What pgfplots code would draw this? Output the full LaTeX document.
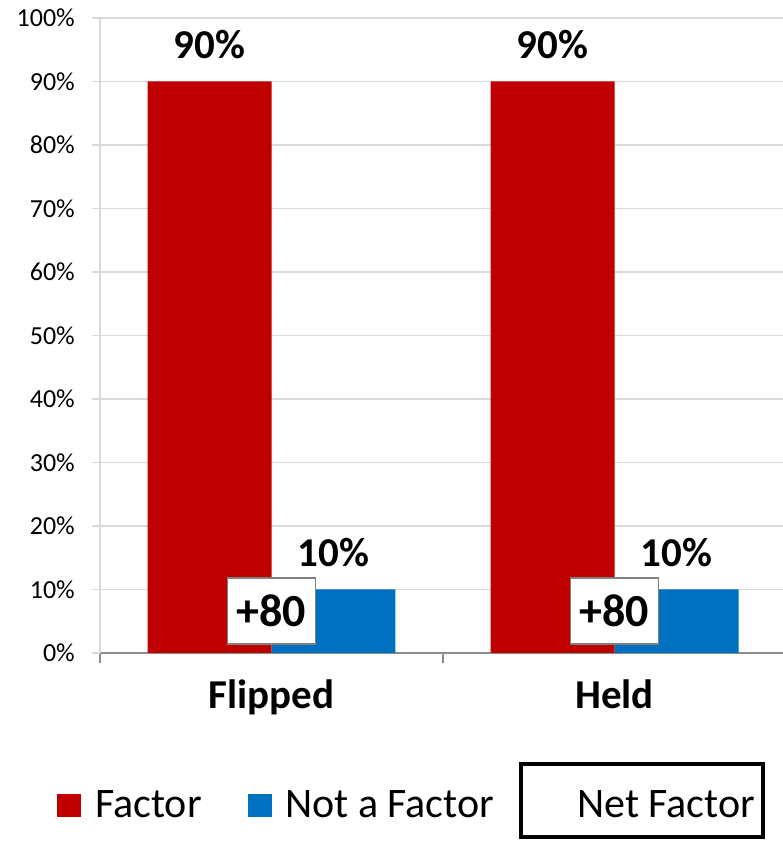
\documentclass[border=0pt]{standalone}
\usepackage{fontspec}
\setmainfont{Carlito}
\usepackage{pgfplots}
\pgfplotsset{compat=1.18}

\definecolor{factorred}{HTML}{C00000}
\definecolor{notblue}{HTML}{0070C0}
\definecolor{gridgray}{HTML}{D9D9D9}
\definecolor{axisgray}{HTML}{8C8C8C}

\newcommand{\fs}[1]{\fontsize{#1}{#1}\selectfont}

\begin{document}
\begin{tikzpicture}
\useasboundingbox (-100pt,-189pt) rectangle (682pt,653pt);
\begin{axis}[
    at={(0pt,0pt)}, anchor=south west,
    scale only axis,
    width=686pt, height=635pt,
    ybar=0pt,
    bar width=0.3615,
    xmin=-0.5, xmax=1.5,
    ymin=0, ymax=100,
    clip=false,
    axis x line*=bottom,
    axis y line*=left,
    x axis line style={draw=axisgray, line width=1.5pt},
    y axis line style={draw=gridgray, line width=1.5pt},
    xtick={0,1},
    xticklabels={Flipped,Held},
    major x tick style={draw=none},
    minor xtick={-0.5,0.5,1.5},
    minor x tick style={draw=axisgray, line width=1.5pt},
    minor tick length=10pt,
    tick align=outside,
    ytick={0,10,...,100},
    yticklabels={0\%,10\%,20\%,30\%,40\%,50\%,60\%,70\%,80\%,90\%,100\%},
    major y tick style={draw=gridgray, line width=1.5pt},
    major tick length=8pt,
    ymajorgrids,
    y grid style={draw=gridgray, line width=1.5pt},
    every y tick label/.append style={font=\fs{26}, inner sep=0pt, anchor=east, xshift=-17pt},
    xticklabel style={font=\bfseries\fs{41}, anchor=base, yshift=-48pt},
    /pgf/number format/assume math mode=true,
    nodes near coords={\pgfmathprintnumber{\pgfplotspointmeta}\%},
    every node near coord/.append style={font=\bfseries\fs{41}, anchor=base, yshift=23pt, inner sep=0pt},
]
\addplot[fill=factorred, draw=none] coordinates {(0,90) (1,90)};
\addplot[fill=notblue, draw=none] coordinates {(0,10) (1,10)};

% net factor boxes
\node[draw=gray, line width=1.5pt, fill=white, minimum width=88pt, minimum height=66pt,
      inner sep=0pt, font=\bfseries\fs{46}] at (axis cs:0,6.6) {+80};
\node[draw=gray, line width=1.5pt, fill=white, minimum width=88pt, minimum height=66pt,
      inner sep=0pt, font=\bfseries\fs{46}] at (axis cs:1,6.6) {+80};
\end{axis}

% legend
\fill[factorred] (-43pt,-164pt) rectangle (-19pt,-141pt);
\node[anchor=base west, inner sep=0pt, font=\fs{42}] at (-5pt,-164pt) {Factor};
\fill[notblue] (148pt,-164pt) rectangle (172pt,-141pt);
\node[anchor=base west, inner sep=0pt, font=\fs{42}] at (185pt,-164pt) {Not a Factor};
\draw[line width=4pt] (421pt,-111pt) rectangle (663pt,-184pt);
\node[anchor=base west, inner sep=0pt, font=\fs{42}] at (477pt,-164pt) {Net Factor};
\end{tikzpicture}
\end{document}
